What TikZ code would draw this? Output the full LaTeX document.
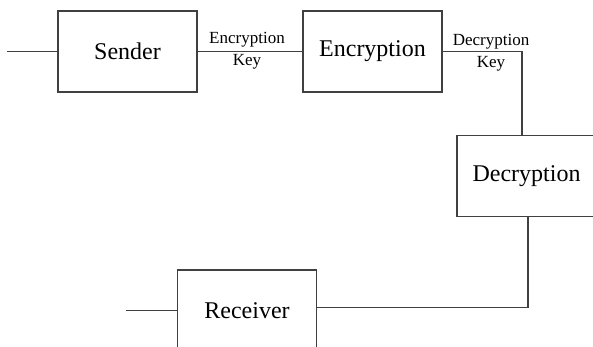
\documentclass[tikz,border=0pt]{standalone}
\usepackage{fontspec}
\setmainfont{Liberation Serif}
\begin{document}
\begin{tikzpicture}[x=1pt,y=-1pt,
        block/.style={draw=black!75, line width=1.2pt, minimum width=139pt, minimum height=81pt, inner sep=0pt, font=\fontsize{24}{29}\selectfont},
        wire/.style={draw=black!75, line width=1.2pt},
        keylabel/.style={align=center, inner sep=0pt, font=\fontsize{17}{22}\selectfont}]

        \useasboundingbox (0,0) rectangle (593,347);

        \node[block] (sender) at (127.5,51.5) {Sender};
        \node[block] (encr) at (372.5,51.5) {Encryption};
        \node[block] (decr) at (526.5,176) {Decryption};
        \node[block] (recv) at (247,310.5) {Receiver};

        \coordinate (in) at (7,51.5);
        \coordinate (out) at (126,310.5);

        \draw[wire] (in) -- (sender);
        \draw[wire] (sender) -- (encr);
        \draw[wire] (encr.east) -| ([xshift=-4.5pt]decr.north);
        \draw[wire] ([xshift=1.5pt]decr.south) |- ([yshift=3pt]recv.east);
        \draw[wire] (out) -- (recv);

        \node[keylabel] (enckey) at (247,51) {Encryption\\Key};
        \node[keylabel] (deckey) at (491,53) {Decryption\\Key};
\end{tikzpicture}
\end{document}
